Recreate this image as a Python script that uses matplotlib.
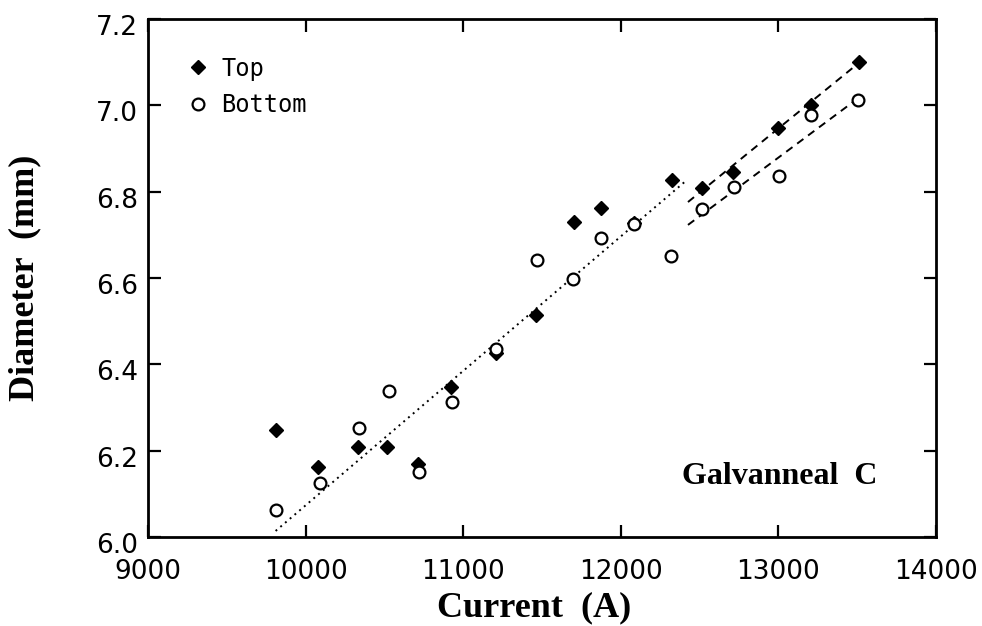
import matplotlib
matplotlib.use("Agg")
import matplotlib.pyplot as plt
import matplotlib.transforms as mtransforms

# Weld nugget diameter vs. welding current
current_top = [9810, 10080, 10330, 10520, 10715, 10925, 11210, 11460, 11705,
               11875, 12085, 12325, 12515, 12710, 13000, 13210, 13510]
diam_top = [6.248, 6.162, 6.208, 6.208, 6.169, 6.347, 6.426, 6.514, 6.730,
            6.762, 6.727, 6.827, 6.808, 6.846, 6.947, 7.001, 7.100]

current_bottom = [9810, 10090, 10338, 10528, 10720, 10930, 11210, 11470, 11700,
                  11875, 12085, 12318, 12516, 12720, 13005, 13210, 13505]
diam_bottom = [6.063, 6.125, 6.252, 6.338, 6.151, 6.313, 6.435, 6.642, 6.598,
               6.693, 6.725, 6.651, 6.760, 6.811, 6.836, 6.978, 7.012]

# Trend lines (end points)
low_fit_x = [9810, 12420]
low_fit_y = [6.014, 6.827]
high_top_fit_x = [12427, 13510]
high_top_fit_y = [6.776, 7.098]
high_bot_fit_x = [12427, 13516]
high_bot_fit_y = [6.723, 7.019]

x_ticks = [9000, 10000, 11000, 12000, 13000, 14000]
y_ticks = [6.0, 6.2, 6.4, 6.6, 6.8, 7.0, 7.2]

fig = plt.figure(figsize=(9.82, 6.26), dpi=100)
ax = fig.add_axes([0.1507, 0.1422, 0.8023, 0.8274])

ax.plot(low_fit_x, low_fit_y, color="black", lw=1.4, linestyle=(0, (1, 2.2)))
ax.plot(high_top_fit_x, high_top_fit_y, color="black", lw=1.4, linestyle=(0, (4, 3)))
ax.plot(high_bot_fit_x, high_bot_fit_y, color="black", lw=1.4, linestyle=(0, (4, 3)))

ax.plot(current_top, diam_top, linestyle="none", marker="D", markersize=7.5,
        color="black", label="Top", zorder=3)
ax.plot(current_bottom, diam_bottom, linestyle="none", marker="o", markersize=8.5,
        markerfacecolor="white", markeredgecolor="black", markeredgewidth=1.6,
        label="Bottom", zorder=3)

ax.set_xlim(9000, 14000)
ax.set_ylim(6.0, 7.2)
ax.set_xticks(x_ticks)
ax.set_yticks(y_ticks)
ax.set_yticklabels([f"{v:.1f}" for v in y_ticks])

for s in ax.spines.values():
    s.set_linewidth(2)

ax.tick_params(direction="in", length=9, width=1.6, top=True, right=True,
               labelsize=19, colors="black")
ax.tick_params(axis="x", pad=16)
ax.tick_params(axis="y", pad=7)

shift = mtransforms.ScaledTranslation(0, -6 / 100, fig.dpi_scale_trans)
for lab in ax.get_yticklabels():
    lab.set_transform(lab.get_transform() + shift)

serif = ["Liberation Serif", "DejaVu Serif"]
ax.set_xlabel("Current  (A)", fontsize=26, fontweight="bold", family=serif)
ax.set_ylabel("Diameter  (mm)", fontsize=26, fontweight="bold", family=serif)
ax.xaxis.set_label_coords(0.49, -0.105)
ax.yaxis.set_label_coords(-0.135, 0.5)

ax.text(0.926, 0.116, "Galvanneal  C", transform=ax.transAxes, ha="right",
        va="center", fontsize=23, fontweight="bold", family=serif)

ax.legend(loc="upper left", bbox_to_anchor=(0.03, 0.955), frameon=False,
          prop={"family": "DejaVu Sans Mono", "size": 17}, handlelength=1.0,
          handletextpad=0.5, labelspacing=0.55, borderaxespad=0.2)

fig.savefig("out.png", dpi=100)
